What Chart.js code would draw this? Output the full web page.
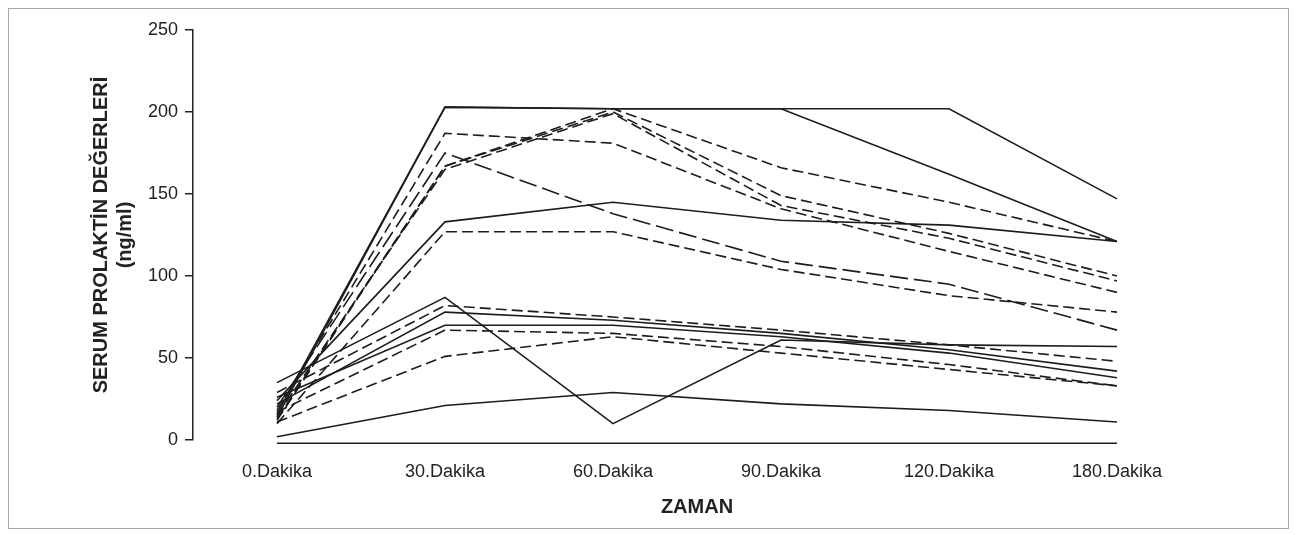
<!DOCTYPE html>
<html>
<head>
<meta charset="utf-8">
<script src="https://cdn.jsdelivr.net/npm/chart.js@4"></script>
<style>
  html, body { margin: 0; padding: 0; background: #ffffff; }
  #wrap { position: relative; width: 1296px; height: 535px; }
  #frame { position: absolute; left: 8px; top: 8px; width: 1279px; height: 519px; border: 1px solid #a8a8a8; pointer-events: none; }
  canvas { position: absolute; left: 0; top: 0; }
</style>
</head>
<body>
<div id="wrap">
  <canvas id="c" width="1296" height="535"></canvas>
  <div id="frame"></div>
</div>
<script>
// ---- data ----
const categories = ['0.Dakika', '30.Dakika', '60.Dakika', '90.Dakika', '120.Dakika', '180.Dakika'];
const yTicks = [0, 50, 100, 150, 200, 250];

const p01 = [14, 203, 202, 202, 202, 147];
const p02 = [16, 203, 202, 202, 162, 121];
const p03 = [12, 167, 202, 166, 145, 121];
const p04 = [18, 187, 181, 141, 115, 90];
const p05 = [20, 175, 138, 109, 95, 67];
const p06 = [10, 127, 127, 104, 88, 78];
const p07 = [24, 133, 145, 134, 131, 121];
const p08 = [13, 167, 200, 149, 126, 100];
const p09 = [15, 165, 199, 143, 123, 97];
const p10 = [29, 82, 75, 67, 58, 48];
const p11 = [22, 78, 73, 65, 55, 42];
const p12 = [26, 70, 70, 63, 53, 38];
const p13 = [17, 67, 65, 57, 46, 33];
const p14 = [11, 51, 63, 53, 43, 33];
const p15 = [35, 87, 10, 61, 58, 57];
const p16 = [2, 21, 29, 22, 18, 11];
const p17 = [-2, -2, -2, -2, -2, -2];

const seriesList = [p01, p02, p03, p04, p05, p06, p07, p08, p09, p10, p11, p12, p13, p14, p15, p16, p17];
const lineKinds = ['solid','solid','dash','dash','long','dash','solid','dash','dash','dash','solid','solid','dash','dash','solid','solid','solid'];

const dashFor = { solid: [], dash: [11, 5], long: [18, 6] };

const datasets = seriesList.map((vals, i) => ({
  label: 'Hasta ' + (i + 1),
  data: vals,
  borderColor: '#1c1c1c',
  borderWidth: 1.6,
  borderDash: dashFor[lineKinds[i]],
  pointRadius: 0,
  tension: 0,
  fill: false,
  clip: false
}));

new Chart(document.getElementById('c'), {
  type: 'line',
  data: { labels: categories, datasets: datasets },
  options: {
    responsive: false,
    animation: false,
    devicePixelRatio: 1,
    layout: { padding: { left: 0, right: 95, top: 30, bottom: 0 } },
    plugins: { legend: { display: false }, tooltip: { enabled: false } },
    scales: {
      x: {
        offset: true,
        grid: { display: false, drawTicks: false },
        border: { display: false },
        ticks: { padding: 21, color: '#222', font: { family: 'Liberation Sans, Arial, sans-serif', size: 18 } },
        title: { display: true, text: 'ZAMAN', color: '#222', padding: { top: 0, bottom: 16 },
                 font: { family: 'Liberation Sans, Arial, sans-serif', size: 20, weight: 'bold', lineHeight: 1.2 } },
        afterFit: (s) => { s.height = 95; }
      },
      y: {
        min: 0, max: 250,
        afterBuildTicks: (s) => { s.ticks = yTicks.map(v => ({ value: v })); },
        grid: { drawOnChartArea: false, drawTicks: true, tickLength: 8, color: '#222', lineWidth: 1.5 },
        border: { display: true, color: '#222', width: 1.5 },
        ticks: { padding: 7, color: '#222', font: { family: 'Liberation Sans, Arial, sans-serif', size: 18 } },
        title: { display: true, text: ['SERUM PROLAKTİN DEĞERLERİ', '(ng/ml)'], color: '#222',
                 padding: { top: 89, bottom: 0 },
                 font: { family: 'Liberation Sans, Arial, sans-serif', size: 20, weight: 'bold', lineHeight: 1.2 } },
        afterFit: (s) => { s.width = 193; }
      }
    }
  }
});
</script>
</body>
</html>
